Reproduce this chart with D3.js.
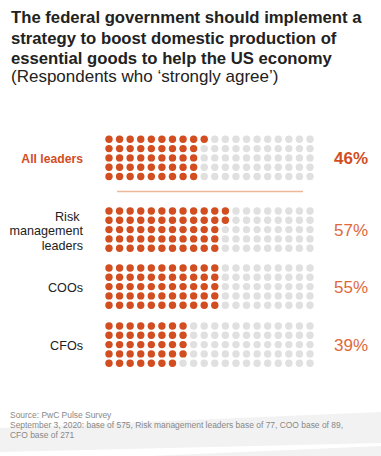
<!DOCTYPE html>
<html>
<head>
<meta charset="utf-8">
<script src="https://cdn.jsdelivr.net/npm/d3@7"></script>
<style>
  body { margin: 0; background: #fff; }
  svg { display: block; font-family: "Liberation Sans", Arial, sans-serif; }
</style>
</head>
<body>
<svg id="chart" width="381" height="456"></svg>
<script>
var titleLines = [
  'The federal government should implement a',
  'strategy to boost domestic production of',
  'essential goods to help the US economy'
];
var subtitle = '(Respondents who \u2018strongly agree\u2019)';
var groups = ['All leaders', 'Risk management leaders', 'COOs', 'CFOs'];
var groupLabelLines = [['All leaders'], ['Risk ', 'management', 'leaders'], ['COOs'], ['CFOs']];
var values = [46, 57, 55, 39];
var sourceLines = [
  'Source: PwC Pulse Survey',
  'September 3, 2020: base of 575, Risk management leaders base of 77, COO base of 89,',
  'CFO base of 271'
];

var orange = '#d24d1f';
var grey = '#e0e0e0';
var nCols = 20, nRows = 5;

var svg = d3.select('#chart');

// footer band
svg.append('polygon')
  .attr('points', '0,428 381,412 381,443 0,452')
  .attr('fill', '#f2f2f2');
svg.append('polygon')
  .attr('points', '150,456 381,446 381,456')
  .attr('fill', '#f2f2f2');

// title
var title = svg.append('text').attr('x', 11).attr('font-weight', 'bold')
  .attr('font-size', 16.7).attr('fill', '#222');
titleLines.forEach(function (t, i) {
  title.append('tspan').attr('x', 11).attr('y', 23 + i * 20.6).text(t);
});
svg.append('text').attr('x', 11).attr('y', 82).attr('font-size', 17)
  .attr('fill', '#222').text(subtitle);

var x = d3.scalePoint().domain(d3.range(nCols)).range([109, 310]);
var yRow = d3.scalePoint().domain(d3.range(nRows)).range([0, 37.2]);
var groupTop = d3.scaleOrdinal().domain(groups).range([139.3, 211, 268, 326]);

function cellsFor(v) {
  return d3.range(nCols * nRows).map(function (i) {
    return { col: Math.floor(i / nRows), row: i % nRows, on: i < v };
  });
}

var g = svg.selectAll('.group').data(groups).enter().append('g')
  .attr('class', 'group')
  .attr('transform', function (d) { return 'translate(0,' + groupTop(d) + ')'; });

g.selectAll('circle').data(function (d, i) { return cellsFor(values[i]); })
  .enter().append('circle')
  .attr('cx', function (d) { return x(d.col); })
  .attr('cy', function (d) { return yRow(d.row); })
  .attr('r', 3.7)
  .attr('fill', function (d) { return d.on ? orange : grey; });

var mid = yRow(2);

g.append('text')
  .attr('text-anchor', 'end')
  .attr('font-size', function (d, i) { return i === 0 ? 12.2 : 12.6; })
  .attr('font-weight', function (d, i) { return i === 0 ? 'bold' : 'normal'; })
  .attr('fill', function (d, i) { return i === 0 ? orange : '#222'; })
  .each(function (d, i) {
    var lines = groupLabelLines[i];
    var t = d3.select(this);
    lines.forEach(function (l, j) {
      t.append('tspan').attr('x', 83)
        .attr('y', mid + 1 + (j - (lines.length - 1) / 2) * 14.5)
        .attr('dy', '0.35em').text(l);
    });
  });

g.append('text')
  .attr('x', 334)
  .attr('y', mid)
  .attr('dy', '0.35em')
  .attr('font-size', 17)
  .attr('font-weight', function (d, i) { return i === 0 ? 'bold' : 'normal'; })
  .attr('fill', function (d, i) { return i === 0 ? orange : '#e0683a'; })
  .text(function (d, i) { return values[i] + '%'; });

// separator
svg.append('line')
  .attr('x1', 117).attr('x2', 303)
  .attr('y1', 191.5).attr('y2', 191.5)
  .attr('stroke', '#eeb69c').attr('stroke-width', 1.5);

// source
var src = svg.append('text').attr('font-size', 8.45).attr('fill', '#888');
sourceLines.forEach(function (t, i) {
  src.append('tspan').attr('x', 10).attr('y', 418 + i * 10).text(t);
});
</script>
</body>
</html>
